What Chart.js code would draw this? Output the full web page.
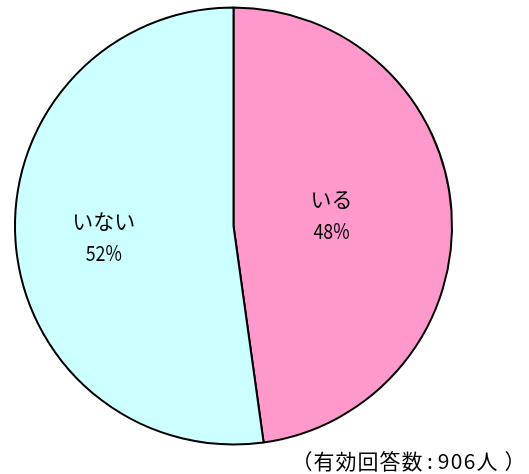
<!DOCTYPE html>
<html>
<head>
<meta charset="utf-8">
<script src="https://cdn.jsdelivr.net/npm/chart.js@4/dist/chart.umd.min.js"></script>
<style>
  html, body { margin: 0; padding: 0; background: #fff; }
  #wrap { width: 529px; height: 474px; }
</style>
</head>
<body>
<div id="wrap"><canvas id="chart-area"></canvas></div>
<script>
var labels = ['いる', 'いない'];
var values = [47.8, 52.2];
var pctLabels = ['48%', '52%'];
var note = '（有効回答数:906人）';

var sliceColors = ['#FF99CC', '#CCFFFF'];
var labelDist = [0.45, 0.595];
var labelShift = [-4, 2];
var jpFont = '"Noto Sans CJK JP", "Noto Sans", sans-serif';

var labelPlugin = {
    id: 'sliceLabels',
    afterDraw: function (chart) {
        var ctx = chart.ctx;
        var meta = chart.getDatasetMeta(0);
        ctx.save();
        ctx.fillStyle = '#000';
        ctx.textAlign = 'center';
        ctx.textBaseline = 'middle';
        meta.data.forEach(function (arc, i) {
            var p = arc.getProps(['x', 'y', 'startAngle', 'endAngle', 'outerRadius'], true);
            var mid = (p.startAngle + p.endAngle) / 2;
            var r = p.outerRadius * labelDist[i];
            var cx = p.x + Math.cos(mid) * r;
            var cy = p.y + Math.sin(mid) * r + labelShift[i];
            ctx.font = '21px ' + jpFont;
            ctx.fillText(labels[i], cx, cy - 16);
            // narrow half-width digits
            ctx.save();
            ctx.translate(cx, cy + 16);
            ctx.scale(0.85, 1);
            ctx.font = '21px ' + jpFont;
            ctx.fillText(pctLabels[i], 0, 0);
            ctx.restore();
        });
        // footnote, fixed-pitch like the original
        ctx.font = '21px ' + jpFont;
        var x = 291;
        for (var k = 0; k < note.length; k++) {
            var ch = note[k];
            var w = 22;
            if (/[0-9]/.test(ch)) w = 13;
            if (ch === ':') w = 14;
            ctx.fillText(ch, x + w / 2, 461);
            x += w;
            if (ch === '人') x += 6;
        }
        ctx.restore();
    }
};

var config = {
    type: 'pie',
    data: {
        labels: labels,
        datasets: [{
            data: values,
            backgroundColor: sliceColors,
            borderColor: '#000',
            borderWidth: 2
        }]
    },
    options: {
        responsive: true,
        maintainAspectRatio: false,
        animation: false,
        layout: {
            padding: { left: 14, right: 76, top: 6, bottom: 28 }
        },
        plugins: {
            legend: { display: false },
            tooltip: { enabled: false },
            title: { display: false }
        }
    },
    plugins: [labelPlugin]
};

var ctx = document.getElementById('chart-area').getContext('2d');
window.myPie = new Chart(ctx, config);
</script>
</body>
</html>
